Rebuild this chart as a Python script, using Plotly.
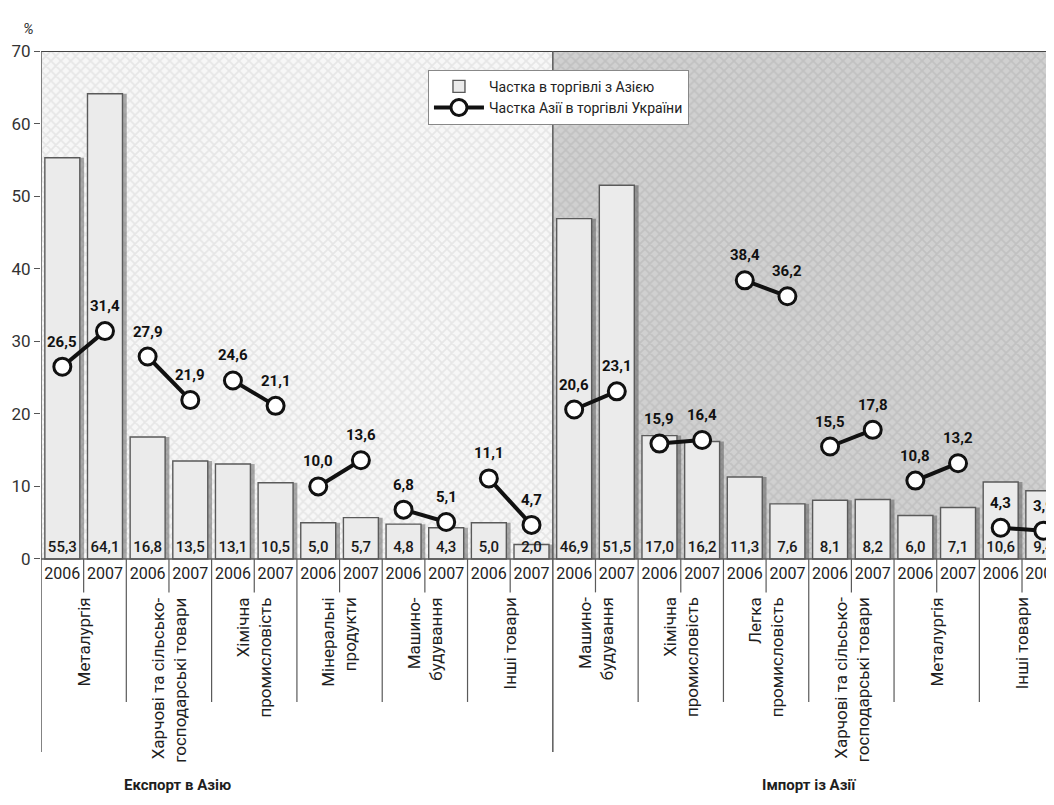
import plotly.graph_objects as go

# ---------------- data ----------------
years = ["2006", "2007"]

export_categories = ["Металургія", "Харчові та сільсько-<br>господарські товари", "Хімічна<br>промисловість",
                     "Мінеральні<br>продукти", "Машино-<br>будування", "Інші товари"]
export_share_2006 = [55.3, 16.8, 13.1, 5.0, 4.8, 5.0]
export_share_2007 = [64.1, 13.5, 10.5, 5.7, 4.3, 2.0]
export_asia_2006 = [26.5, 27.9, 24.6, 10.0, 6.8, 11.1]
export_asia_2007 = [31.4, 21.9, 21.1, 13.6, 5.1, 4.7]

import_categories = ["Машино-<br>будування", "Хімічна<br>промисловість", "Легка<br>промисловість",
                     "Харчові та сільсько-<br>господарські товари", "Металургія", "Інші товари"]
import_share_2006 = [46.9, 17.0, 11.3, 8.1, 6.0, 10.6]
import_share_2007 = [51.5, 16.2, 7.6, 8.2, 7.1, 9.4]
import_asia_2006 = [20.6, 15.9, 38.4, 15.5, 10.8, 4.3]
import_asia_2007 = [23.1, 16.4, 36.2, 17.8, 13.2, 3.9]

y_ticks = [0, 10, 20, 30, 40, 50, 60, 70]
section_titles = ["Експорт в Азію", "Імпорт із Азії"]
legend_names = ["Частка в торгівлі з Азією", "Частка Азії в торгівлі України"]

FONT = "Roboto, Noto Sans, sans-serif"


def fmt(v):
    return f"{v:.1f}".replace(".", ",")


# ---------------- build series ----------------
categories = export_categories + import_categories
share06 = export_share_2006 + import_share_2006
share07 = export_share_2007 + import_share_2007
asia06 = export_asia_2006 + import_asia_2006
asia07 = export_asia_2007 + import_asia_2007

n_groups = len(categories)
bar_x, bar_y, year_lbl = [], [], []
line_x, line_y = [], []
pt_x, pt_y = [], []
for g in range(n_groups):
    bar_x += [2 * g, 2 * g + 1]
    bar_y += [share06[g], share07[g]]
    year_lbl += years
    line_x += [2 * g, 2 * g + 1, None]
    line_y += [asia06[g], asia07[g], None]
    pt_x += [2 * g, 2 * g + 1]
    pt_y += [asia06[g], asia07[g]]

n_slots = len(bar_x)
half = n_slots // 2
X0, X1 = -0.5, 23.25
Y0, Y1 = -33.21, 70

fig = go.Figure()

# hatched backgrounds (export / import halves)
fig.add_trace(go.Bar(x=[(half - 1) / 2], y=[Y1], width=[half], base=0,
                     marker=dict(color="#f3f3f3", line=dict(width=0),
                                 pattern=dict(shape="x", size=7, solidity=0.45,
                                              fgcolor="#d6d6d6", bgcolor="#f7f7f7")),
                     showlegend=False, hoverinfo="skip"))
fig.add_trace(go.Bar(x=[half + (half - 1) / 2], y=[Y1], width=[half], base=0,
                     marker=dict(color="#cccccc", line=dict(width=0),
                                 pattern=dict(shape="x", size=7, solidity=0.45,
                                              fgcolor="#b2b2b2", bgcolor="#d0d0d0")),
                     showlegend=False, hoverinfo="skip"))

# bar shadows
fig.add_trace(go.Bar(x=bar_x, y=bar_y, width=0.82, offset=-0.41 + 0.1,
                     marker=dict(color="rgba(70,70,70,0.45)", line=dict(width=0)),
                     showlegend=False, hoverinfo="skip"))

# bars
fig.add_trace(go.Bar(x=bar_x, y=bar_y, width=0.82, name=legend_names[0],
                     marker=dict(color="#ebebeb", line=dict(color="#5a5a5a", width=1.4))))

# bar value labels
fig.add_trace(go.Scatter(x=bar_x, y=[0.5] * n_slots, mode="text",
                         text=[fmt(v) for v in bar_y], textposition="top center",
                         textfont=dict(family=FONT, size=15, color="#1a1a1a", weight=500),
                         showlegend=False, hoverinfo="skip"))

# year labels
fig.add_trace(go.Scatter(x=bar_x, y=[-2.2] * n_slots, mode="text", text=year_lbl,
                         textfont=dict(family=FONT, size=16, color="#222"),
                         showlegend=False, hoverinfo="skip"))

# Asia share lines
fig.add_trace(go.Scatter(x=line_x, y=line_y, mode="lines+markers", name=legend_names[1],
                         line=dict(color="#111", width=4),
                         marker=dict(size=17, color="white", line=dict(color="#111", width=3)),
                         connectgaps=False))

# ---------------- shapes ----------------
shapes = []
line_col = "#5a5a5a"
shapes.append(dict(type="line", xref="x", yref="y", x0=X0, x1=X1, y0=Y1, y1=Y1,
                   line=dict(color="#444", width=2)))
shapes.append(dict(type="line", xref="x", yref="y", x0=X0, x1=X1, y0=0, y1=0,
                   line=dict(color=line_col, width=1.5)))
for xv in [X0, half - 0.5]:
    shapes.append(dict(type="line", xref="x", yref="y", x0=xv, x1=xv, y0=Y1, y1=-26.6,
                       line=dict(color=line_col, width=1.5)))
for g in range(n_groups):
    if g not in (0, n_groups // 2):
        xv = 2 * g - 0.5
        shapes.append(dict(type="line", xref="x", yref="y", x0=xv, x1=xv, y0=0, y1=-19.7,
                           line=dict(color=line_col, width=1.2)))
    xv = 2 * g + 0.5
    shapes.append(dict(type="line", xref="x", yref="y", x0=xv, x1=xv, y0=0, y1=-4.6,
                       line=dict(color=line_col, width=1.2)))

# ---------------- annotations ----------------
annotations = []
for xv, yv in zip(pt_x, pt_y):
    annotations.append(dict(x=xv, y=yv, xref="x", yref="y", text="<b>" + fmt(yv) + "</b>",
                            showarrow=False, yshift=25,
                            font=dict(family=FONT, size=15, color="#111")))
for g, cat in enumerate(categories):
    annotations.append(dict(x=2 * g + 0.5, y=-5.0, xref="x", yref="y", text=cat,
                            showarrow=False, textangle=-90, xanchor="center", yanchor="top",
                            align="right", font=dict(family=FONT, size=17, color="#1e1e1e")))
annotations.append(dict(x=2.7, y=-31.1, xref="x", yref="y", text="<b>" + section_titles[0] + "</b>",
                        showarrow=False, font=dict(family=FONT, size=15, color="#1e1e1e")))
annotations.append(dict(x=17.5, y=-31.1, xref="x", yref="y", text="<b>" + section_titles[1] + "</b>",
                        showarrow=False, font=dict(family=FONT, size=15, color="#1e1e1e")))
annotations.append(dict(x=-0.02, y=1.044, xref="paper", yref="paper", text="<i>%</i>",
                        showarrow=False, font=dict(family=FONT, size=15, color="#333")))

# page body has an 8px margin: shrink the figure so its plot area lands on the reference pixels
fig.update_layout(
    width=1046, height=797,
    margin=dict(l=33, r=0, t=43, b=5),
    paper_bgcolor="white", plot_bgcolor="white",
    barmode="overlay",
    font=dict(family=FONT, color="#222"),
    xaxis=dict(range=[X0, X1], visible=False),
    yaxis=dict(range=[Y0, Y1], tickvals=y_ticks, ticks="outside", ticklen=6,
               tickcolor="#555", tickfont=dict(family=FONT, size=17, color="#333"),
               showgrid=False, zeroline=False, showline=False),
    showlegend=True,
    legend=dict(x=0.382, y=0.975, xanchor="left", yanchor="top",
                bgcolor="white", bordercolor="#888", borderwidth=1,
                font=dict(family=FONT, size=14, color="#222"), itemwidth=50,
                traceorder="normal"),
    shapes=shapes, annotations=annotations,
)

fig.write_html("out.html")
